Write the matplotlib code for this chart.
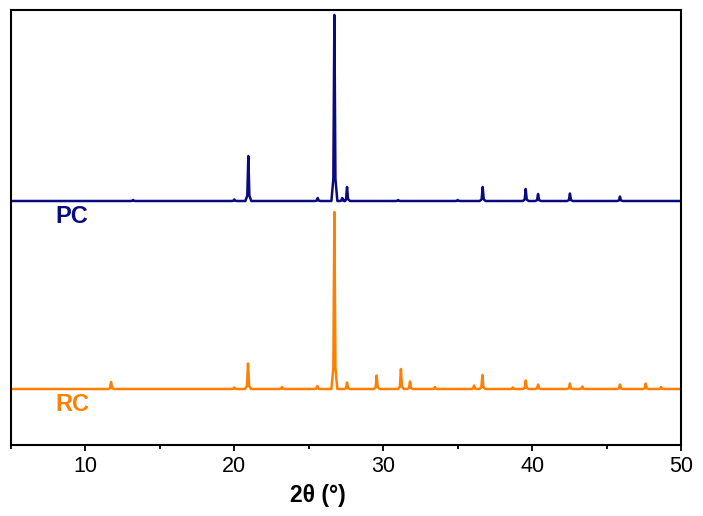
# XRD patterns of PC and RC samples, stacked with an offset.

import numpy as np
import matplotlib.pyplot as plt

plt.rcParams['font.family'] = ['Liberation Sans', 'DejaVu Sans']

# peak positions (2theta, deg) and heights above baseline (a.u.)
pc_pos = [13.2, 20.0, 20.94, 25.6, 26.72, 27.25, 27.57, 31.0, 35.0, 36.68, 39.57, 40.4, 42.54, 45.9]
pc_int = [1.0, 1.5, 45.0, 3.0, 186.0, 3.0, 14.0, 1.0, 1.0, 14.0, 12.0, 7.0, 7.5, 4.5]

rc_pos = [11.72, 20.0, 20.92, 23.2, 25.57, 26.72, 27.57, 29.56, 31.19, 31.8, 33.47,
          36.1, 36.66, 38.7, 39.57, 40.4, 42.54, 43.37, 45.9, 47.63, 48.66]
rc_int = [7.0, 1.5, 25.5, 2.0, 3.0, 177.0, 6.5, 13.5, 20.0, 7.5, 2.0,
          3.5, 14.0, 1.5, 8.5, 4.5, 5.5, 2.5, 4.5, 5.5, 2.0]

labels = ["PC", "RC"]
colors = ["#0a0a82", "#ff8000"]
offsets = [188, 0]

X_MIN, X_MAX = 5, 50

# peak shape used to draw each reflection (offset in deg, fraction of height)
PROFILE_DX = [-0.2, -0.07, 0.0, 0.07, 0.2]
PROFILE_FRAC = [0.0, 0.12, 1.0, 0.12, 0.0]


def pattern(pos, inten):
    """ Build the line vertices of a pattern from its peak list """
    xs, ys = [X_MIN], [0.0]
    for p, h in zip(pos, inten):
        xs += [p + d for d in PROFILE_DX]
        ys += [h * f for f in PROFILE_FRAC]
    xs.append(X_MAX)
    ys.append(0.0)
    return np.array(xs), np.array(ys)


fig = plt.figure(figsize=(7.03, 5.16), dpi=100)
ax = fig.add_axes([11 / 703, 71 / 516, 670 / 703, 435 / 516])

for (pos, inten), lab, col, off in zip([(pc_pos, pc_int), (rc_pos, rc_int)], labels, colors, offsets):
    x, y = pattern(pos, inten)
    ax.plot(x, y + off, color=col, lw=1.8, solid_joinstyle='round')
    ax.text(7.95, off - 22, lab, color=col, fontsize=17, fontweight='bold',
            ha='left', va='baseline')

ax.set_xlim(X_MIN, X_MAX)
ax.set_ylim(-56, 379)
ax.set_yticks([])
ax.set_xticks([10, 20, 30, 40, 50])
ax.set_xticks([5, 15, 25, 35, 45], minor=True)
ax.tick_params(axis='x', which='major', direction='out', length=4.2, width=1.3,
               labelsize=15.5, pad=4)
ax.tick_params(axis='x', which='minor', direction='out', length=2.6, width=1.3)
for s in ax.spines.values():
    s.set_linewidth(1.5)

ax.set_xlabel("2θ (°)", fontsize=16.5, fontweight='bold', va='center')
ax.xaxis.set_label_coords(0.458, -0.115)

fig.savefig("out.png", dpi=100)
plt.close(fig)
